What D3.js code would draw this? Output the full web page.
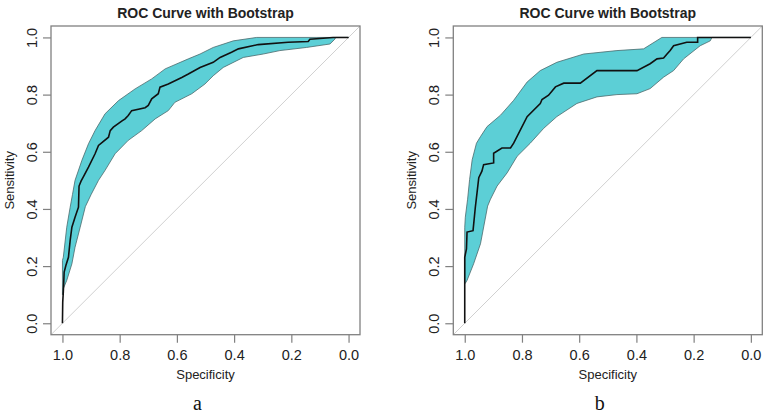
<!DOCTYPE html>
<html>
<head>
<meta charset="utf-8">
<script src="https://cdn.jsdelivr.net/npm/d3@7"></script>
<style>
  body { margin: 0; background: #fff; }
  svg { display: block; }
</style>
</head>
<body>
<svg id="chart" width="767" height="414"></svg>
<script>
// tick labels shared by both panels
const tickValues = [1.0, 0.8, 0.6, 0.4, 0.2, 0.0]

// panel a: [specificity, sensitivity]
const curveA = [[1, 0], [0.999, 0.074], [0.997, 0.109], [0.994, 0.179], [0.988, 0.202], [0.979, 0.231],
    [0.973, 0.29], [0.967, 0.336], [0.956, 0.371], [0.944, 0.406], [0.942, 0.48], [0.935, 0.497],
    [0.927, 0.512], [0.909, 0.546], [0.886, 0.593], [0.874, 0.622], [0.839, 0.651], [0.833, 0.674],
    [0.822, 0.686], [0.793, 0.707], [0.781, 0.715], [0.77, 0.727], [0.758, 0.744], [0.711, 0.754],
    [0.7, 0.762], [0.688, 0.785], [0.665, 0.803], [0.659, 0.826], [0.63, 0.837], [0.583, 0.86],
    [0.56, 0.872], [0.519, 0.895], [0.473, 0.913], [0.449, 0.93], [0.409, 0.948], [0.385, 0.96],
    [0.316, 0.975], [0.211, 0.983], [0.141, 0.986], [0.135, 0.994], [0.054, 1.0], [0, 1]]
const upperA = [[0, 1], [0.321, 1], [0.403, 0.988], [0.473, 0.965], [0.519, 0.942], [0.56, 0.925],
    [0.641, 0.89], [0.688, 0.855], [0.746, 0.82], [0.804, 0.779], [0.851, 0.733], [0.886, 0.674],
    [0.909, 0.628], [0.932, 0.57], [0.956, 0.5], [0.965, 0.45], [0.973, 0.406], [0.985, 0.336],
    [0.997, 0.231], [1.0, 0.22]]
const lowerA = [[1.0, 0.1], [0.997, 0.121], [0.985, 0.15], [0.967, 0.208], [0.956, 0.266], [0.938, 0.336],
    [0.92, 0.408], [0.9, 0.45], [0.874, 0.5], [0.851, 0.535], [0.816, 0.593], [0.77, 0.64],
    [0.723, 0.674], [0.676, 0.715], [0.63, 0.744], [0.607, 0.773], [0.548, 0.803], [0.502, 0.837],
    [0.473, 0.866], [0.438, 0.895], [0.368, 0.93], [0.298, 0.942], [0.24, 0.954], [0.147, 0.965],
    [0.065, 0.977], [0.048, 0.994], [0.045, 1.0], [0, 1]]

// panel b
const curveB = [[1, 0], [1, 0.231], [0.994, 0.26], [0.992, 0.319], [0.971, 0.324], [0.963, 0.406],
    [0.957, 0.457], [0.951, 0.509], [0.94, 0.532], [0.934, 0.555], [0.899, 0.561], [0.899, 0.595],
    [0.87, 0.613], [0.84, 0.613], [0.829, 0.63], [0.782, 0.723], [0.736, 0.769], [0.73, 0.783],
    [0.707, 0.798], [0.683, 0.827], [0.654, 0.84], [0.596, 0.84], [0.538, 0.884], [0.398, 0.884],
    [0.352, 0.908], [0.328, 0.925], [0.305, 0.928], [0.293, 0.942], [0.282, 0.954], [0.27, 0.971],
    [0.224, 0.983], [0.186, 0.983], [0.186, 1.0], [0, 1]]
const upperB = [[0, 1], [0.311, 1], [0.375, 0.96], [0.468, 0.954], [0.584, 0.942], [0.678, 0.913],
    [0.736, 0.884], [0.782, 0.844], [0.829, 0.78], [0.875, 0.728], [0.922, 0.688], [0.945, 0.653],
    [0.959, 0.63], [0.974, 0.572], [0.983, 0.503], [0.99, 0.434], [0.998, 0.371], [1.0, 0.336],
    [1.0, 0.15]]
const lowerB = [[1.0, 0.138], [0.998, 0.14], [0.992, 0.15], [0.969, 0.208], [0.945, 0.278], [0.92, 0.41],
    [0.91, 0.434], [0.887, 0.48], [0.852, 0.526], [0.817, 0.584], [0.771, 0.63], [0.724, 0.682],
    [0.678, 0.723], [0.608, 0.769], [0.538, 0.792], [0.468, 0.8], [0.398, 0.803], [0.352, 0.821],
    [0.305, 0.861], [0.27, 0.884], [0.235, 0.925], [0.177, 0.971], [0.142, 0.988], [0.136, 1.0], [0, 1]]

const svg = d3.select('#chart')
const sans = 'Liberation Sans, Arial, sans-serif'

function drawPanel (left, curve, upper, lower, letter, id) {
    let box = { x: left, y: 26, w: 309, h: 308.7 }
    let x = d3.scaleLinear().domain([1.04, -0.04]).range([box.x, box.x + box.w])
    let y = d3.scaleLinear().domain([1.04, -0.04]).range([box.y, box.y + box.h])
    let g = svg.append('g')

    g.append('clipPath').attr('id', 'clip-' + id)
        .append('rect')
        .attr('x', box.x).attr('y', box.y).attr('width', box.w).attr('height', box.h)

    let line = d3.line().x(d => x(d[0])).y(d => y(d[1]))
    let plot = g.append('g').attr('clip-path', 'url(#clip-' + id + ')')

    // chance diagonal
    plot.append('path')
        .attr('d', line([[1.1, -0.1], [-0.1, 1.1]]))
        .attr('stroke', '#d0d0d0')
        .attr('stroke-width', 1)
        .attr('fill', 'none')

    // bootstrap band
    plot.append('path')
        .attr('d', line(upper.concat(lower)) + 'Z')
        .attr('fill', '#5ccfd6')
        .attr('stroke', '#4a6a6c')
        .attr('stroke-width', 0.8)

    plot.append('path')
        .attr('d', line(curve))
        .attr('fill', 'none')
        .attr('stroke', '#111')
        .attr('stroke-width', 1.6)

    g.append('rect')
        .attr('x', box.x).attr('y', box.y).attr('width', box.w).attr('height', box.h)
        .attr('fill', 'none')
        .attr('stroke', '#808080')
        .attr('stroke-width', 1.3)

    let xAxis = g.append('g')
        .attr('transform', 'translate(0,' + (box.y + box.h) + ')')
        .call(d3.axisBottom(x).tickValues(tickValues).tickFormat(d3.format('.1f')).tickSize(8).tickPadding(7))
    let yAxis = g.append('g')
        .attr('transform', 'translate(' + box.x + ',0)')
        .call(d3.axisLeft(y).tickValues(tickValues).tickFormat(d3.format('.1f')).tickSize(8))

    for (let ax of [xAxis, yAxis]) {
        ax.select('.domain').remove()
        ax.selectAll('line').attr('stroke', '#808080').attr('stroke-width', 1.2)
        ax.selectAll('text')
            .attr('font-family', sans)
            .attr('font-size', '14.5px')
            .attr('fill', '#222')
    }
    yAxis.selectAll('text')
        .attr('x', null)
        .attr('dy', null)
        .attr('text-anchor', 'middle')
        .attr('transform', 'translate(-14,0) rotate(-90)')

    g.append('text')
        .text('ROC Curve with Bootstrap')
        .attr('x', box.x + box.w / 2)
        .attr('y', 18)
        .attr('text-anchor', 'middle')
        .attr('font-family', sans)
        .attr('font-weight', 'bold')
        .attr('font-size', '14px')
        .attr('fill', '#222')

    g.append('text')
        .text('Specificity')
        .attr('x', box.x + box.w / 2)
        .attr('y', 379)
        .attr('text-anchor', 'middle')
        .attr('font-family', sans)
        .attr('font-size', '13px')
        .attr('fill', '#222')

    g.append('text')
        .text('Sensitivity')
        .attr('transform', 'translate(' + (box.x - 37) + ',' + (box.y + box.h / 2) + ') rotate(-90)')
        .attr('text-anchor', 'middle')
        .attr('font-family', sans)
        .attr('font-size', '13px')
        .attr('fill', '#222')

    g.append('text')
        .text(letter)
        .attr('x', box.x + box.w / 2 - 8)
        .attr('y', 410)
        .attr('text-anchor', 'middle')
        .attr('font-family', 'Liberation Serif, Times New Roman, serif')
        .attr('font-size', '20px')
        .attr('fill', '#111')
}

drawPanel(51, curveA, upperA, lowerA, 'a', 'a')
drawPanel(453.3, curveB, upperB, lowerB, 'b', 'b')
</script>
</body>
</html>
